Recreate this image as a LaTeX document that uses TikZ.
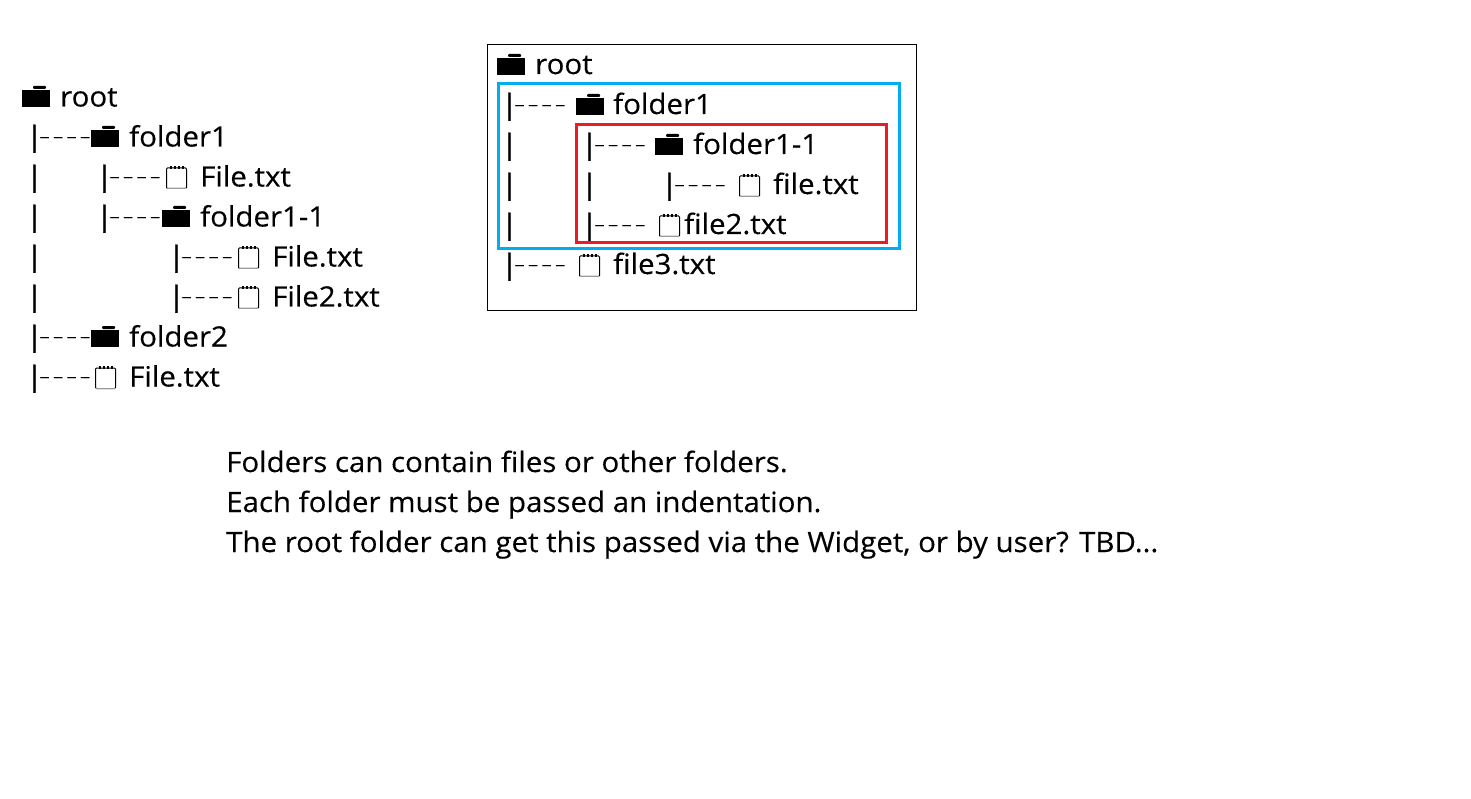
\documentclass[tikz,border=0pt]{standalone}
\usepackage{fontspec}
\setmainfont[FakeStretch=1.052,FakeBold=0.3]{Open Sans}
\newfontfamily\barfont[FakeStretch=1.052,FakeBold=1.2]{Open Sans}
\usetikzlibrary{positioning}
\definecolor{boxblue}{HTML}{00AEEF}
\definecolor{boxred}{HTML}{ED1C24}
\newcommand{\thindash}{\raisebox{5pt}{\scalebox{1.2}[.45]{-}}\kern2.2pt}
\newcommand{\branchtext}{{\barfont|}\kern-3.6pt\thindash\thindash\thindash\thindash}
\tikzset{%
label/.style={anchor=base west,inner sep=0pt,font=\fontsize{28}{40}\selectfont},
bar/.style={label,xshift=-8pt},
foldericon/.pic={
  \fill (0,0) rectangle (28,-17);
  \fill[rounded corners=1pt] (11,-18) rectangle (24,-21);
},
noteicon/.pic={
  \draw[black,line width=1pt,rounded corners=1pt] (0.5,-0.5) rectangle (20.5,-21);
  \draw[gray!80,line width=1.5pt] (1,-0.3) -- (20,-0.3);
  \foreach \dotx in {4,8,12,16}
    \fill (\dotx,-23) rectangle ++(2,2.6);
}
}
\begin{document}
\begin{tikzpicture}[x=1pt,y=-1pt]
\useasboundingbox (0,0) rectangle (1471,799);
% frames on the right
\draw[line width=1pt] (487,44.5) rectangle (916,311);
\draw[boxblue,line width=3pt] (498,84) rectangle (899,249);
\draw[boxred,line width=3pt] (576,125) rectangle (886,243);
% bars with dashes
\foreach \xpos/\ypos [count=\i] in {34/146,104/186,104/226,176/266,176/306,34/346,34/386,
                                    509/114,589/154,669/194,589/234,509/274}
  \node[bar] (branch\i) at (\xpos,\ypos) {\branchtext};
% bars alone
\foreach \xpos/\ypos [count=\i] in {34/186,34/226,34/266,34/306,
                                    509/154,509/194,509/234,589/194}
  \node[bar] (bar\i) at (\xpos,\ypos) {\barfont|};
% folders
\foreach \xpos/\ypos [count=\i] in {22/107,91/147,162/227,91/347,497/75,576/115,655/155}
  \pic (folder\i) at (\xpos,\ypos) {foldericon};
% files
\foreach \xpos/\ypos [count=\i] in {166/189,238/269,238/309,95/389,739/197,659/237,579/277}
  \pic (note\i) at (\xpos,\ypos) {noteicon};
% labels
\foreach \lname/\xpos/\ypos/\ltext in {
  a/60/106.5/root,b/129/146.5/folder1,c/200/186.5/File.txt,d/200/226.5/folder1-1,
  e/272/266.5/File.txt,f/272/306.5/File2.txt,g/129/346.5/folder2,h/129/386.5/File.txt,
  i/535/74/root,j/613/114/folder1,k/693/154/folder1-1,l/773/194/file.txt,
  m/684/234/file2.txt,n/613/274/file3.txt,
  p/226/472/Folders can contain files or other folders.,
  q/226/512/Each folder must be passed an indentation.,
  r/226/552/{The root folder can get this passed via the Widget, or by user? TBD...}}
  \node[label] (\lname) at (\xpos,\ypos) {\ltext};
\end{tikzpicture}
\end{document}
